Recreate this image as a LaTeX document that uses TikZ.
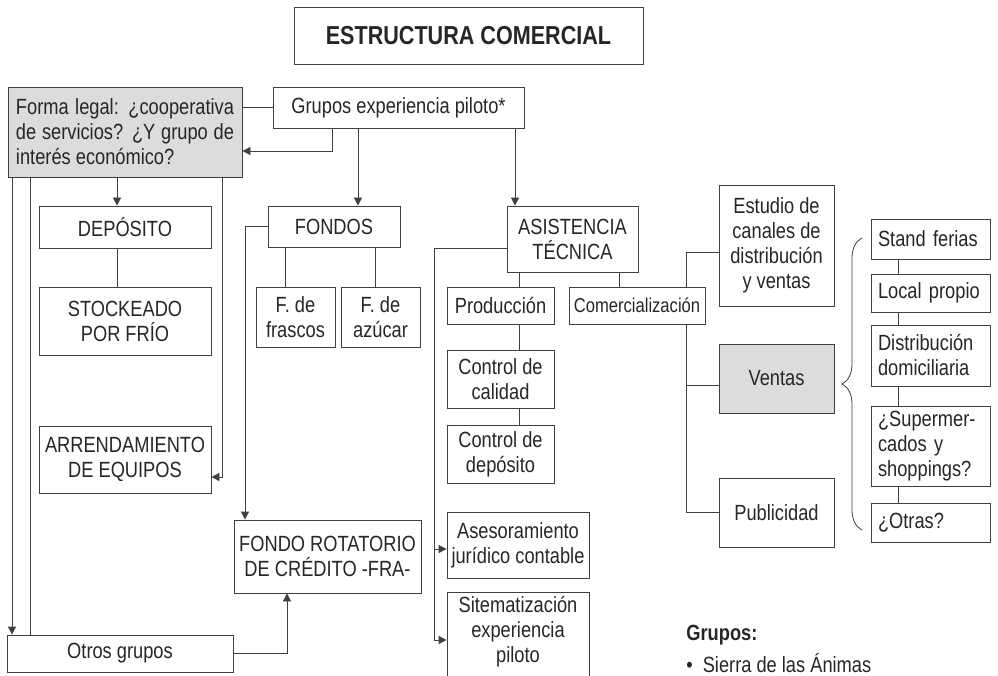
\documentclass[tikz,border=0pt]{standalone}
\usepackage{fontspec}
\setmainfont{Liberation Sans}[FakeStretch=0.83]
\usetikzlibrary{arrows.meta,decorations.pathreplacing}
\definecolor{grisfondo}{HTML}{DCDCDC}
\tikzset{
    caja/.style={draw, inner sep=2pt, align=center, text=black!85, font=\fontsize{22}{25}\selectfont},
    cajagris/.style={caja, fill=grisfondo},
    canal/.style={caja, align=left, text width=105pt, inner xsep=7pt, minimum width=119pt},
    flecha/.style={-{Triangle[length=8pt,width=8pt]}},
}
\begin{document}
\begin{tikzpicture}[x=1pt,y=-1pt,line width=0.8pt,color=black!75]
                    \useasboundingbox (0,0) rectangle (998,676);
                    \node[caja, font=\bfseries\fontsize{26}{30}\selectfont, minimum width=349pt, minimum height=57pt] (titulo) at (468.5,35.5) {ESTRUCTURA COMERCIAL};
                    \node[cajagris, text width=218pt, align=justify, minimum width=234pt, minimum height=90pt] (forma) at (125,132) {Forma legal: ¿cooperativa\linebreak de servicios? ¿Y grupo de\linebreak interés económico?};
                    \node[caja, minimum width=251pt, minimum height=41pt] (grupos) at (398.5,107.5) {Grupos experiencia piloto*};
                    \node[caja, minimum width=172pt, minimum height=42pt] (deposito) at (125,227) {DEPÓSITO};
                    \node[caja, minimum width=172pt, minimum height=68pt] (stock) at (125,321) {STOCKEADO\\POR FRÍO};
                    \node[caja, minimum width=172pt, minimum height=67pt] (arriendo) at (125,459.5) {ARRENDAMIENTO\\DE EQUIPOS};
                    \node[caja, minimum width=226pt, minimum height=37pt] (otros) at (120,653.5) {Otros grupos};
                    \node[caja, minimum width=132pt, minimum height=41pt] (fondos) at (334,226.5) {FONDOS};
                    \node[caja, minimum width=79pt, minimum height=60pt] (frascos) at (295.5,317) {F. de\\frascos};
                    \node[caja, minimum width=79pt, minimum height=60pt] (azucar) at (380.5,317) {F. de\\azúcar};
                    \node[caja, minimum width=187pt, minimum height=73pt] (fra) at (327.5,556.5) {FONDO ROTATORIO\\DE CRÉDITO -FRA-};
                    \node[caja, minimum width=131pt, minimum height=66pt] (asistencia) at (572.5,239) {ASISTENCIA\\TÉCNICA};
                    \node[caja, minimum width=107pt, minimum height=37pt] (produccion) at (500.5,305.5) {Producción};
                    \node[caja, font=\fontsize{20}{24}\selectfont, minimum width=136pt, minimum height=37pt] (comercial) at (637,305.5) {Comercialización};
                    \node[caja, minimum width=107pt, minimum height=58pt] (calidad) at (500.5,379) {Control de\\calidad};
                    \node[caja, minimum width=107pt, minimum height=58pt] (ctrldepo) at (500.5,454) {Control de\\depósito};
                    \node[caja, minimum width=142pt, minimum height=66pt] (asesor) at (518,545) {Asesoramiento\\jurídico contable};
                    \node[caja, anchor=north, minimum width=142pt, inner ysep=4pt] (sistema) at (518,592) {Sitematización\\experiencia\\piloto\\\strut};
                    \node[caja, minimum width=115pt, minimum height=121pt] (estudio) at (776.5,245.5) {Estudio de\\canales de\\distribución\\y ventas};
                    \node[cajagris, minimum width=115pt, minimum height=69pt] (ventas) at (776.5,378.5) {Ventas};
                    \node[caja, minimum width=115pt, minimum height=69pt] (publicidad) at (776.5,512.5) {Publicidad};
                    \node[canal, minimum height=40pt] (stand) at (930.5,239) {Stand ferias};
                    \node[canal, minimum height=38pt] (local) at (930.5,293) {Local propio};
                    \node[canal, minimum height=61pt] (domicilio) at (930.5,355.5) {Distribución\\domiciliaria};
                    \node[canal, minimum height=80pt] (super) at (930.5,446) {¿Supermer-\\cados y\\shoppings?};
                    \node[canal, minimum height=39pt] (otras) at (930.5,522.5) {¿Otras?};
                    \node[anchor=west, inner sep=0pt, text=black!85, font=\bfseries\fontsize{22}{25}\selectfont] (listatit) at (686,635) {Grupos:};
                    \node[anchor=west, inner sep=0pt, text=black!85, font=\fontsize{22}{25}\selectfont] (sierra) at (686,663) {•\hspace{10pt}Sierra de las Ánimas};
                    \coordinate (ramal) at (434,640);
                    \coordinate (troncoC) at (686,385);
                    \draw (grupos.west) -- (grupos.west -| forma.east);
                    \draw[flecha] (grupos.south -| 332,0) |- (forma.east |- 0,151);
                    \draw[flecha] (grupos.south -| 358,0) -- (fondos.north -| 358,0);
                    \draw[flecha] (grupos.south -| 515,0) -- (asistencia.north -| 515,0);
                    \draw[flecha] (forma.south -| 117,0) -- (deposito.north -| 117,0);
                    \draw (deposito.south -| 117,0) -- (stock.north -| 117,0);
                    \draw[flecha] (forma.south -| 12,0) -- (otros.north -| 12,0);
                    \draw (forma.south -| 30,0) -- (otros.north -| 30,0);
                    \draw[flecha] (forma.south -| 222,0) |- (arriendo.east |- 0,477);
                    \draw[flecha] (otros.east) -| (fra.south -| 287,0);
                    \draw[flecha] (fondos.west) -| (fra.north -| 245,0);
                    \draw (fondos.south -| 285,0) -- (frascos.north -| 285,0);
                    \draw (fondos.south -| 375,0) -- (azucar.north -| 375,0);
                    \draw (asistencia.south -| 519,0) -- (produccion.north -| 519,0);
                    \draw (asistencia.south -| 619,0) -- (comercial.north -| 619,0);
                    \draw (produccion.south -| 519,0) -- (calidad.north -| 519,0);
                    \draw (calidad.south -| 519,0) -- (ctrldepo.north -| 519,0);
                    \draw (asistencia.west |- 0,248) -| (ramal);
                    \draw[flecha] (ramal |- 0,549) -- (asesor.west |- 0,549);
                    \draw[flecha] (ramal) -- (sistema.west |- ramal);
                    \draw (comercial.north -| troncoC) |- (estudio.west |- 0,252);
                    \draw (comercial.south -| troncoC) |- (publicidad.west);
                    \draw (troncoC) -- (ventas.west |- troncoC);
                    \foreach \a/\b in {stand/local, local/domicilio, domicilio/super, super/otras}
                        \draw (\a.south -| 898,0) -- (\b.north -| 898,0);
                    \draw[decorate, decoration={brace, amplitude=20pt}] (862,530) -- (862,238);
                \end{tikzpicture}
\end{document}
